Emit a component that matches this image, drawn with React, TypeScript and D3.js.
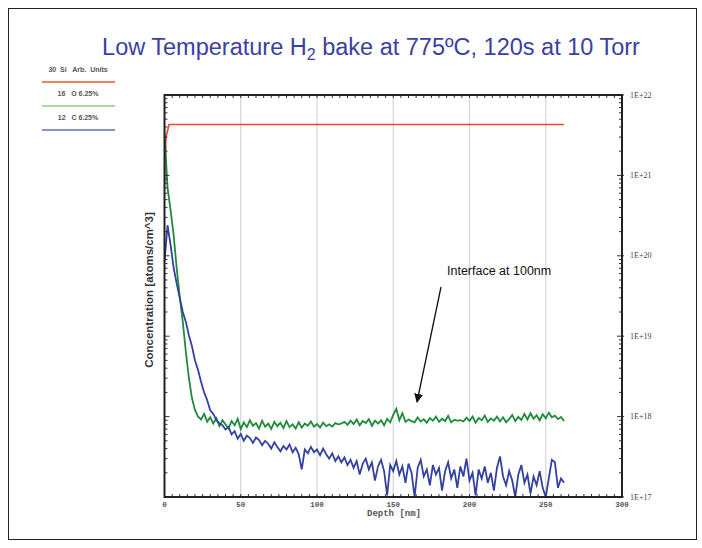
import * as d3 from 'd3'

// depth grid (nm), one reading every 2 nm
const depth = d3.range(0, 263, 2)

// 30 Si, arbitrary units
const siliconDepth = [0, 1, 3, 262]
const silicon = [7.6e20, 3.0e21, 4.3e21, 4.3e21]

// 16 O, atoms/cm^3
const oxygen = [
  3.4e21, 7.0e20, 3.7e20, 1.8e20, 7.0e19, 3.1e19, 1.5e19, 6.4e18, 3.0e18, 1.7e18,
  1.2e18, 1.0e18, 9.2e17, 1.08e18, 8.6e17, 9.8e17, 8.2e17, 9.5e17, 7.6e17, 9.0e17,
  8.0e17, 7.2e17, 8.8e17, 7.8e17, 9.4e17, 7.0e17, 8.5e17, 7.4e17, 9.0e17, 7.7e17,
  8.3e17, 7.1e17, 8.9e17, 7.5e17, 8.2e17, 7.0e17, 8.6e17, 7.6e17, 8.4e17, 7.2e17,
  8.8e17, 7.4e17, 8.0e17, 7.1e17, 8.5e17, 7.3e17, 8.2e17, 7.7e17, 8.7e17, 7.5e17,
  8.1e17, 7.3e17, 8.4e17, 7.6e17, 8.0e17, 7.5e17, 8.3e17, 8.0e17, 8.2e17, 8.6e17,
  7.9e17, 8.9e17, 8.1e17, 9.2e17, 7.8e17, 8.8e17, 8.3e17, 9.3e17, 7.7e17, 8.9e17,
  8.2e17, 9.0e17, 7.8e17, 9.4e17, 8.5e17, 1.05e18, 1.25e18, 9.0e17, 1.1e18, 8.6e17,
  9.2e17, 8.8e17, 8.5e17, 9.8e17, 8.7e17, 9.3e17, 8.4e17, 9.6e17, 8.9e17, 1.0e18,
  8.6e17, 9.4e17, 8.8e17, 1.02e18, 8.5e17, 9.1e17, 8.9e17, 9.0e17, 8.7e17, 9.7e17,
  8.8e17, 1.0e18, 8.4e17, 9.6e17, 9.0e17, 1.03e18, 8.6e17, 9.5e17, 8.9e17, 1.0e18,
  8.7e17, 9.8e17, 8.5e17, 9.3e17, 1.05e18, 8.8e17, 9.9e17, 9.1e17, 1.08e18, 9.2e17,
  1.1e18, 9.4e17, 1.04e18, 9.0e17, 1.07e18, 9.5e17, 1.12e18, 9.8e17, 1.03e18, 9.3e17,
  9.9e17, 8.8e17,
]

// 12 C, atoms/cm^3
const carbon = [
  8.4e19, 2.4e20, 1.36e20, 7.1e19, 4.5e19, 3.0e19, 2.0e19, 1.5e19, 1.03e19, 7.5e18,
  5.0e18, 3.8e18, 2.7e18, 2.0e18, 1.6e18, 1.2e18, 1.08e18, 9.1e17, 8.2e17, 7.8e17,
  6.9e17, 7.4e17, 6.0e17, 6.6e17, 5.3e17, 6.1e17, 5.0e17, 5.8e17, 5.4e17, 4.7e17,
  5.5e17, 5.1e17, 4.4e17, 5.0e17, 4.6e17, 4.0e17, 4.8e17, 4.2e17, 3.7e17, 4.3e17,
  3.9e17, 4.5e17, 3.6e17, 4.1e17, 3.4e17, 2.2e17, 3.9e17, 3.5e17, 4.2e17, 3.6e17,
  3.9e17, 3.3e17, 4.0e17, 3.4e17, 3.0e17, 3.5e17, 2.8e17, 3.2e17, 2.7e17, 3.1e17,
  2.5e17, 2.9e17, 2.3e17, 2.8e17, 1.9e17, 2.6e17, 3.0e17, 2.2e17, 2.7e17, 1.6e17,
  2.4e17, 2.9e17, 2.1e17, 1.05e17, 2.5e17, 2.1e17, 2.8e17, 1.9e17, 2.4e17, 1.5e17,
  2.6e17, 2.0e17, 1.0e17, 2.3e17, 2.9e17, 1.8e17, 2.2e17, 1.4e17, 2.5e17, 1.9e17,
  2.3e17, 1.2e17, 2.1e17, 2.7e17, 1.7e17, 2.2e17, 1.3e17, 2.4e17, 1.8e17, 3.0e17,
  1.6e17, 2.0e17, 1.05e17, 2.2e17, 1.7e17, 2.4e17, 1.5e17, 2.0e17, 1.2e17, 2.3e17,
  3.2e17, 1.8e17, 1.4e17, 2.1e17, 1.6e17, 1.0e17, 1.9e17, 2.5e17, 1.5e17, 1.9e17,
  1.1e17, 1.8e17, 1.4e17, 2.1e17, 1.3e17, 1.0e17, 1.7e17, 2.9e17, 2.7e17, 1.3e17,
  1.7e17, 1.5e17,
]

const xTicks = [0, 50, 100, 150, 200, 250, 300]
const xGrid = [50, 100, 150, 200, 250]
const decades = [17, 18, 19, 20, 21, 22]

const legendItems = [
  { label: '30  Si   Arb.  Units', color: '#f0805e' },
  { label: '16   O 6.25%', color: '#a9d8a0' },
  { label: '12   C 6.25%', color: '#8a90c8' },
]

const W = 702
const H = 548
const plot = { left: 164.5, right: 622, top: 95, bottom: 497 }

export default function App() {
  const x = d3.scaleLinear().domain([0, 300]).range([plot.left, plot.right])
  const y = d3.scaleLog().domain([1e17, 1e22]).range([plot.bottom, plot.top])

  const line = d3
    .line<[number, number]>()
    .x((d) => x(d[0]))
    .y((d) => y(Math.max(d[1], 5e16)))

  const n = Math.min(depth.length, oxygen.length, carbon.length)
  const oPts = d3.range(n).map((i) => [depth[i], oxygen[i]] as [number, number])
  const cPts = d3.range(n).map((i) => [depth[i], carbon[i]] as [number, number])
  const siPts = siliconDepth.map((d, i) => [d, silicon[i]] as [number, number])

  const minorY: number[] = []
  decades.slice(0, -1).forEach((e) => {
    for (let m = 2; m < 10; m++) minorY.push(m * Math.pow(10, e))
  })
  const minorX = d3.range(5, 300, 5)

  return (
    <svg width={W} height={H} style={{ position: 'absolute', left: 0, top: 0, background: '#fff' }}>
      <defs>
        <clipPath id="plotClip">
          <rect x={plot.left} y={plot.top} width={plot.right - plot.left} height={plot.bottom - plot.top} />
        </clipPath>
        <marker id="arrowHead" viewBox="0 0 10 10" refX="9" refY="5" markerWidth="7" markerHeight="7" orient="auto">
          <path d="M0,0 L10,5 L0,10 z" fill="#111" />
        </marker>
      </defs>

      <rect x={8.5} y={8.5} width={688} height={531} fill="none" stroke="#222" strokeWidth={1} />

      <text x={371} y={55} textAnchor="middle" fill="#3b3fa3" fontFamily="Liberation Sans, Arial, sans-serif" fontSize={23.5}>
        Low Temperature H<tspan fontSize={16} dy={5}>2</tspan>
        <tspan dy={-5}> bake at 775ºC, 120s at 10 Torr</tspan>
      </text>

      {legendItems.map((it, i) => (
        <g key={it.label} transform={`translate(78,${72 + i * 24})`}>
          <text textAnchor="middle" fontFamily="Liberation Sans, Arial, sans-serif" fontSize={7} fontWeight="bold" fill="#555" style={{ whiteSpace: 'pre' }}>
            {it.label}
          </text>
          <line x1={-36} x2={37} y1={10} y2={10} stroke={it.color} strokeWidth={2} />
        </g>
      ))}

      {xGrid.map((v) => (
        <line key={v} x1={x(v)} x2={x(v)} y1={plot.top} y2={plot.bottom} stroke="#d4d4d4" strokeWidth={1.2} />
      ))}

      <g clipPath="url(#plotClip)" fill="none" strokeLinejoin="miter">
        <path d={line(siPts) ?? ''} stroke="#ec4a2e" strokeWidth={1.6} />
        <path d={line(oPts) ?? ''} stroke="#1e8b3b" strokeWidth={1.8} />
        <path d={line(cPts) ?? ''} stroke="#3441a1" strokeWidth={1.8} />
      </g>

      {/* axis ticks */}
      <g stroke="#333" strokeWidth={1}>
        {minorY.map((v) => (
          <g key={v}>
            <line x1={plot.left} x2={plot.left + 3} y1={y(v)} y2={y(v)} />
            <line x1={plot.right - 3} x2={plot.right} y1={y(v)} y2={y(v)} />
          </g>
        ))}
        {decades.map((e) => (
          <g key={e}>
            <line x1={plot.left} x2={plot.left + 5} y1={y(Math.pow(10, e))} y2={y(Math.pow(10, e))} />
            <line x1={plot.right - 5} x2={plot.right + 2} y1={y(Math.pow(10, e))} y2={y(Math.pow(10, e))} />
          </g>
        ))}
        {minorX.map((v) => (
          <g key={v}>
            <line x1={x(v)} x2={x(v)} y1={plot.bottom} y2={plot.bottom - 3} />
            <line x1={x(v)} x2={x(v)} y1={plot.top} y2={plot.top + 3} />
          </g>
        ))}
      </g>

      <rect
        x={plot.left}
        y={plot.top}
        width={plot.right - plot.left}
        height={plot.bottom - plot.top}
        fill="none"
        stroke="#222"
        strokeWidth={2}
      />

      {xTicks.map((v) => (
        <text key={v} x={x(v)} y={507} textAnchor="middle" fontFamily="Liberation Mono, monospace" fontSize={7.5} fontWeight="bold" fill="#555">
          {v}
        </text>
      ))}
      <text x={394} y={516} textAnchor="middle" fontFamily="Liberation Mono, monospace" fontSize={9} fontWeight="bold" fill="#555">
        Depth [nm]
      </text>

      {decades.map((e) => (
        <text key={e} x={630} y={y(Math.pow(10, e)) + 2.5} fontFamily="Liberation Serif, serif" fontSize={8} fill="#444">
          {`1E+${e}`}
        </text>
      ))}

      <text
        transform={`translate(153,${(plot.top + plot.bottom) / 2 - 6}) rotate(-90)`}
        textAnchor="middle"
        fontFamily="Liberation Sans, Arial, sans-serif"
        fontSize={11.5}
        fontWeight="bold"
        fill="#333"
      >
        Concentration [atoms/cm^3]
      </text>

      <text x={447} y={275} fontFamily="Liberation Sans, Arial, sans-serif" fontSize={12.5} fill="#111">
        Interface at 100nm
      </text>
      <line x1={441} y1={287} x2={417} y2={402} stroke="#111" strokeWidth={1.3} markerEnd="url(#arrowHead)" />
    </svg>
  )
}
